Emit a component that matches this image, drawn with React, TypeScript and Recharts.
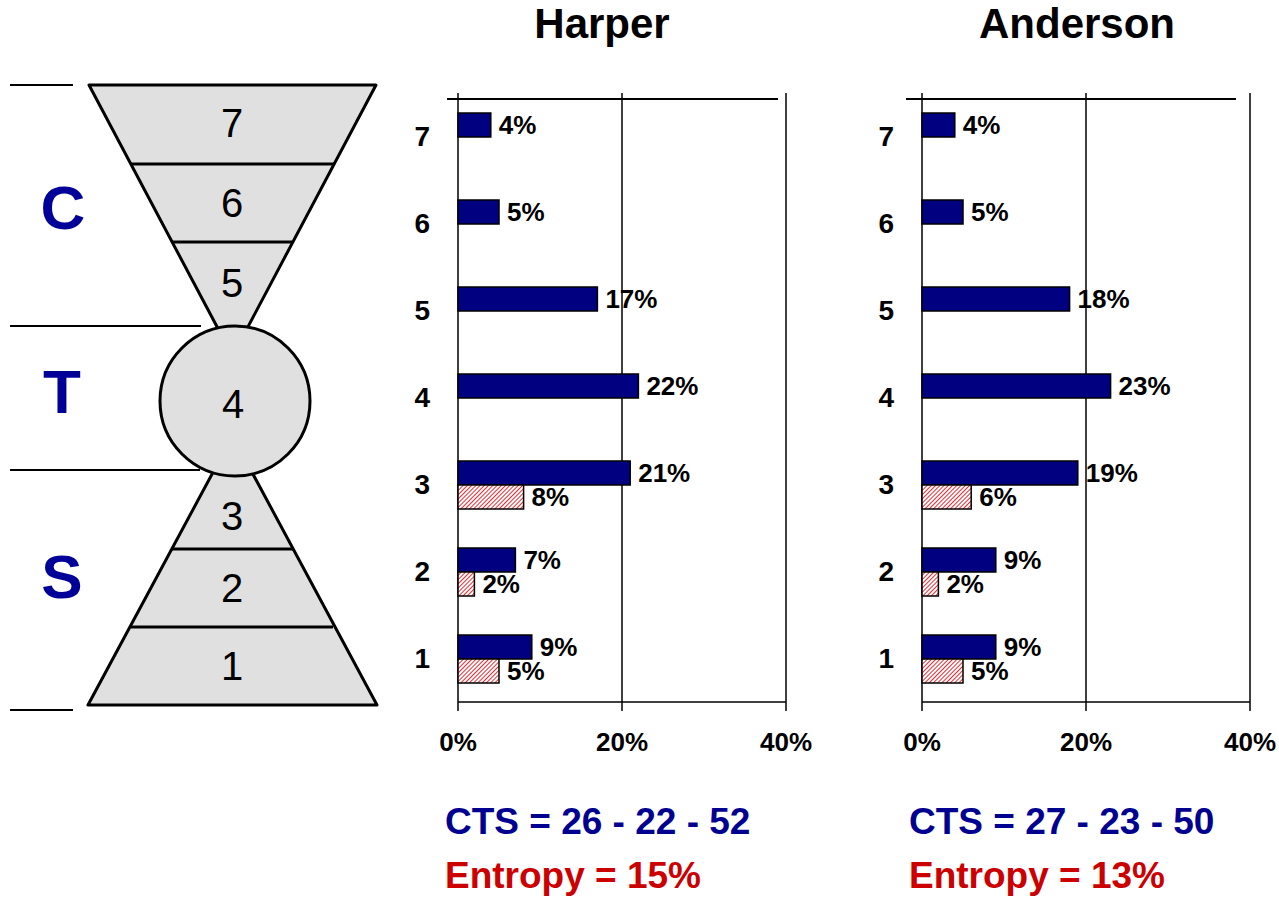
import React from 'react';
import { BarChart, Bar, XAxis, YAxis, CartesianGrid, LabelList } from 'recharts';

// Levels, top to bottom
const levels = ['7', '6', '5', '4', '3', '2', '1'];

const harperBlue = [4, 5, 17, 22, 21, 7, 9];
const harperRed = [null, null, null, null, 8, 2, 5];
const andersonBlue = [4, 5, 18, 23, 19, 9, 9];
const andersonRed = [null, null, null, null, 6, 2, 5];

const xTicks = [0, 20, 40];
const edgeTicks = [0, 1, 2, 3, 4, 5, 6, 7];

const FONT = "Arial, 'Liberation Sans', sans-serif";
const NAVY = '#000080';

const pct = (v: any) => (v == null ? '' : `${v}%`);

interface PanelProps {
  left: number;
  blue: (number | null)[];
  red: (number | null)[];
  lineLeft: number; // top border line, relative to panel
  lineWidth: number;
}

const Panel: React.FC<PanelProps> = ({ left, blue, red, lineLeft, lineWidth }) => {
  const rows = levels.map((level, i) => ({ level, blue: blue[i], red: red[i] }));
  const labelStyle = { fill: '#000', fontSize: 26, fontWeight: 700, fontFamily: FONT };

  return (
    <div style={{ position: 'absolute', left, top: 60 }}>
      {/* thin top border line of the plot */}
      <div style={{ position: 'absolute', left: lineLeft, top: 38, width: lineWidth, height: 1.5, background: '#000' }} />
      <BarChart
        layout="vertical"
        width={420}
        height={720}
        data={rows}
        margin={{ top: 33, right: 34, bottom: 18, left: 0 }}
        barGap={0}
        barSize={24}
      >
        <CartesianGrid horizontal={false} stroke="#000" strokeWidth={1.5} yAxisId="cat" />
        <XAxis
          type="number"
          domain={[0, 40]}
          ticks={xTicks}
          tickFormatter={(v) => `${v}%`}
          height={60}
          tickSize={9}
          tickMargin={22}
          axisLine={{ stroke: '#000', strokeWidth: 1.5 }}
          tickLine={{ stroke: '#000', strokeWidth: 1.5 }}
          tick={labelStyle}
          interval={0}
        />
        <YAxis
          yAxisId="cat"
          type="category"
          dataKey="level"
          width={58}
          tickSize={0}
          tickMargin={28}
          axisLine={false}
          tickLine={false}
          tick={{ ...labelStyle, fontSize: 28 }}
          interval={0}
        />
        <YAxis
          yAxisId="edge"
          type="number"
          domain={[0, 7]}
          ticks={edgeTicks}
          allowDataOverflow
          width={0}
          tick={false}
          tickSize={11}
          axisLine={{ stroke: '#000', strokeWidth: 1.5 }}
          tickLine={{ stroke: '#000', strokeWidth: 1.5 }}
        />
        <Bar yAxisId="cat" dataKey="blue" fill={NAVY} stroke="#000" strokeWidth={1.5} isAnimationActive={false}>
          <LabelList dataKey="blue" position="right" offset={8} formatter={pct} style={labelStyle} />
        </Bar>
        <Bar yAxisId="cat" dataKey="red" fill="url(#hatchRed)" stroke="#000" strokeWidth={1.5} isAnimationActive={false}>
          <LabelList dataKey="red" position="right" offset={8} formatter={pct} style={labelStyle} />
        </Bar>
      </BarChart>
    </div>
  );
};

// Left-hand hourglass diagram and text
const Overlay: React.FC = () => {
  const line = { stroke: '#000', strokeWidth: 3 };
  const num = { fontSize: 40, fontFamily: FONT, textAnchor: 'middle' as const, fill: '#000' };
  const big = { fontSize: 62, fontFamily: FONT, fontWeight: 700, textAnchor: 'middle' as const, fill: '#000099' };
  return (
    <svg width={1279} height={901} style={{ position: 'absolute', left: 0, top: 0 }}>
      <defs>
        <pattern id="hatchRed" width="3" height="3" patternUnits="userSpaceOnUse" patternTransform="rotate(45)">
          <rect width="3" height="3" fill="#fff" />
          <line x1="0" y1="0" x2="0" y2="3" stroke="#e3141c" strokeWidth="1.8" />
        </pattern>
      </defs>

      {/* side markers */}
      <line x1={10} y1={85} x2={73} y2={85} stroke="#000" strokeWidth={2} />
      <line x1={10} y1={326} x2={201} y2={326} stroke="#000" strokeWidth={2} />
      <line x1={10} y1={470} x2={200} y2={470} stroke="#000" strokeWidth={2} />
      <line x1={10} y1={710} x2={73} y2={710} stroke="#000" strokeWidth={2} />

      {/* funnel */}
      <polygon points="89,85 376,85 232.5,356" fill="#e0e0e0" stroke="#000" strokeWidth={3} strokeLinejoin="round" />
      <line x1={130} y1={164} x2={334} y2={164} {...line} />
      <line x1={173} y1={242} x2={292} y2={242} {...line} />

      {/* pyramid */}
      <polygon points="88,705 377,705 232.5,436" fill="#e0e0e0" stroke="#000" strokeWidth={3} strokeLinejoin="round" />
      <line x1={172} y1={549} x2={293} y2={549} {...line} />
      <line x1={131} y1={627} x2={333} y2={627} {...line} />

      <circle cx={235} cy={401} r={75} fill="#e0e0e0" stroke="#000" strokeWidth={3} />

      <text x={232} y={137} {...num}>7</text>
      <text x={232} y={217} {...num}>6</text>
      <text x={232} y={297} {...num}>5</text>
      <text x={233} y={418} {...num}>4</text>
      <text x={232} y={530} {...num}>3</text>
      <text x={232} y={602} {...num}>2</text>
      <text x={232} y={680} {...num}>1</text>

      <text x={63} y={229} {...big}>C</text>
      <text x={62} y={413} {...big}>T</text>
      <text x={62} y={598} {...big}>S</text>

      {/* titles */}
      <text x={602} y={38} fontSize={42} fontWeight={700} fontFamily={FONT} textAnchor="middle">Harper</text>
      <text x={1077} y={38} fontSize={42} fontWeight={700} fontFamily={FONT} textAnchor="middle">Anderson</text>

      {/* summary lines */}
      <text x={445} y={834} fontSize={37} fontWeight={700} fontFamily={FONT} fill="#000090">CTS = 26 - 22 - 52</text>
      <text x={445} y={888} fontSize={37} fontWeight={700} fontFamily={FONT} fill="#cc0000">Entropy = 15%</text>
      <text x={909} y={834} fontSize={37} fontWeight={700} fontFamily={FONT} fill="#000090">CTS = 27 - 23 - 50</text>
      <text x={909} y={888} fontSize={37} fontWeight={700} fontFamily={FONT} fill="#cc0000">Entropy = 13%</text>
    </svg>
  );
};

export default function App() {
  return (
    <div style={{ position: 'absolute', left: 0, top: 0, width: 1279, height: 901, overflow: 'hidden', background: '#fff', fontFamily: FONT }}>
      <Overlay />
      <Panel left={400} blue={harperBlue} red={harperRed} lineLeft={47} lineWidth={331} />
      <Panel left={864} blue={andersonBlue} red={andersonRed} lineLeft={42} lineWidth={330} />
    </div>
  );
}
